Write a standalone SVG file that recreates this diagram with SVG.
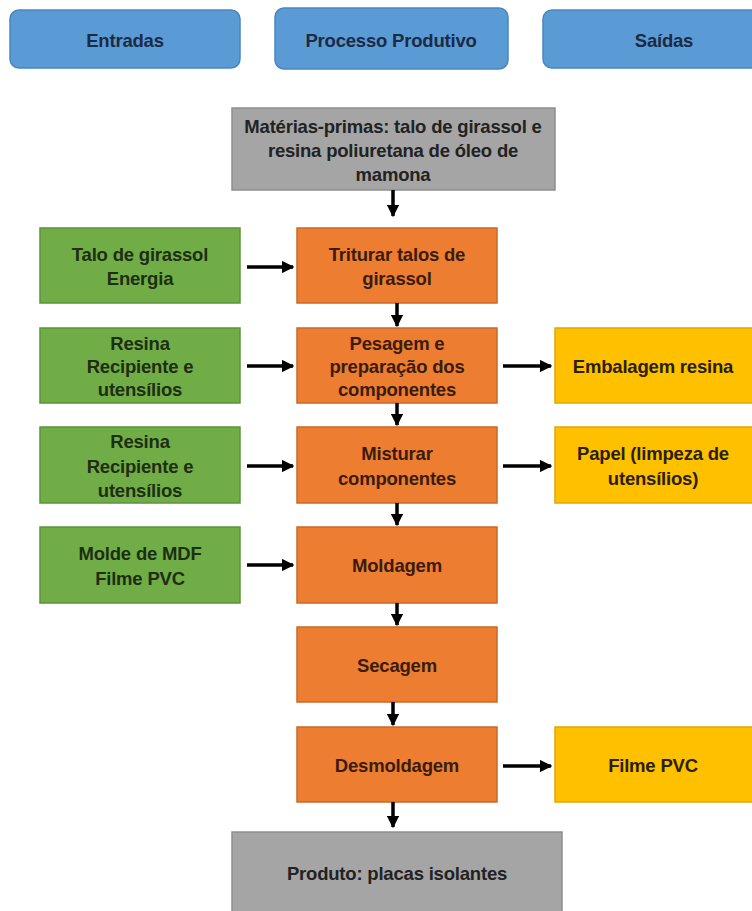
<svg xmlns="http://www.w3.org/2000/svg" width="752" height="911" viewBox="0 0 752 911">
<style>
text{font-family:"Liberation Sans",Arial,sans-serif;font-weight:bold;font-size:18.5px;text-anchor:middle;dominant-baseline:central;letter-spacing:-0.2px}
.hdr rect{fill:#5B9BD5;stroke:#4A86BE;stroke-width:1.5}
.hdr text{fill:#1c2a44}
.proc rect{fill:#ED7D31;stroke:#C8692A;stroke-width:1.5}
.proc text{fill:#3a1c0c}
.inp rect{fill:#70AD47;stroke:#5A9438;stroke-width:1.5}
.inp text{fill:#1e2e12}
.out rect{fill:#FFC000;stroke:#E0A800;stroke-width:1.5}
.out text{fill:#2a2000}
.gray rect{fill:#A5A5A5;stroke:#8E8E8E;stroke-width:1.5}
.gray text{fill:#222}
#connectors line{stroke:#000;stroke-width:3.5;marker-end:url(#ah)}
</style>
<defs>
<marker id="ah" viewBox="0 0 10 10" refX="9" refY="5" markerWidth="3.6" markerHeight="3.6" orient="auto" markerUnits="strokeWidth">
<path d="M0,0 L10,5 L0,10 Z" fill="#000"/>
</marker>
</defs>
<rect width="752" height="911" fill="#fff"/>
<g id="h-entradas" class="hdr"><rect x="10" y="10" width="230" height="58" rx="9"/><text x="125" y="40">Entradas</text></g>
<g id="h-processo" class="hdr"><rect x="275" y="8" width="233" height="61" rx="9"/><text x="391" y="40">Processo Produtivo</text></g>
<g id="h-saidas" class="hdr"><rect x="543" y="10" width="220" height="58" rx="9"/><text x="664" y="40">Saídas</text></g>

<g id="materias" class="gray"><rect x="232" y="108" width="323" height="82"/>
<text x="393" y="126">Matérias-primas: talo de girassol e</text>
<text x="393" y="150">resina poliuretana de óleo de</text>
<text x="393" y="174">mamona</text></g>

<g id="triturar" class="proc"><rect x="297" y="228" width="200" height="75"/><text x="397" y="254">Triturar talos de</text><text x="397" y="278">girassol</text></g>
<g id="in1" class="inp"><rect x="40" y="228" width="200" height="75"/><text x="140" y="254">Talo de girassol</text><text x="140" y="278">Energia</text></g>

<g id="pesagem" class="proc"><rect x="297" y="328" width="200" height="75"/><text x="397" y="343">Pesagem e</text><text x="397" y="366">preparação dos</text><text x="397" y="389">componentes</text></g>
<g id="in2" class="inp"><rect x="40" y="328" width="200" height="75"/><text x="140" y="343">Resina</text><text x="140" y="366">Recipiente e</text><text x="140" y="389">utensílios</text></g>
<g id="out1" class="out"><rect x="555" y="328" width="205" height="75"/><text x="653" y="366">Embalagem resina</text></g>

<g id="misturar" class="proc"><rect x="297" y="427" width="200" height="76"/><text x="397" y="453">Misturar</text><text x="397" y="478">componentes</text></g>
<g id="in3" class="inp"><rect x="40" y="427" width="200" height="76"/><text x="140" y="441">Resina</text><text x="140" y="466">Recipiente e</text><text x="140" y="490">utensílios</text></g>
<g id="out2" class="out"><rect x="555" y="427" width="205" height="76"/><text x="653" y="453">Papel (limpeza de</text><text x="653" y="478">utensílios)</text></g>

<g id="moldagem" class="proc"><rect x="297" y="527" width="200" height="76"/><text x="397" y="565">Moldagem</text></g>
<g id="in4" class="inp"><rect x="40" y="527" width="200" height="76"/><text x="140" y="553">Molde de MDF</text><text x="140" y="578">Filme PVC</text></g>

<g id="secagem" class="proc"><rect x="297" y="627" width="200" height="75"/><text x="397" y="665">Secagem</text></g>

<g id="desmoldagem" class="proc"><rect x="297" y="727" width="200" height="75"/><text x="397" y="765">Desmoldagem</text></g>
<g id="out3" class="out"><rect x="555" y="727" width="205" height="75"/><text x="653" y="765">Filme PVC</text></g>

<g id="produto" class="gray"><rect x="232" y="832" width="330" height="90"/><text x="397" y="873">Produto: placas isolantes</text></g>

<g id="connectors">
<line x1="393" y1="190" x2="393" y2="216"/>
<line x1="247" y1="267" x2="293" y2="267"/>
<line x1="397" y1="303" x2="397" y2="326"/>
<line x1="247" y1="366" x2="293" y2="366"/>
<line x1="503" y1="366" x2="551" y2="366"/>
<line x1="397" y1="403" x2="397" y2="425"/>
<line x1="247" y1="466" x2="293" y2="466"/>
<line x1="503" y1="466" x2="551" y2="466"/>
<line x1="397" y1="503" x2="397" y2="525"/>
<line x1="247" y1="565" x2="293" y2="565"/>
<line x1="397" y1="603" x2="397" y2="625"/>
<line x1="393" y1="702" x2="393" y2="725"/>
<line x1="503" y1="766" x2="551" y2="766"/>
<line x1="393" y1="802" x2="393" y2="827"/>
</g>
</svg>
